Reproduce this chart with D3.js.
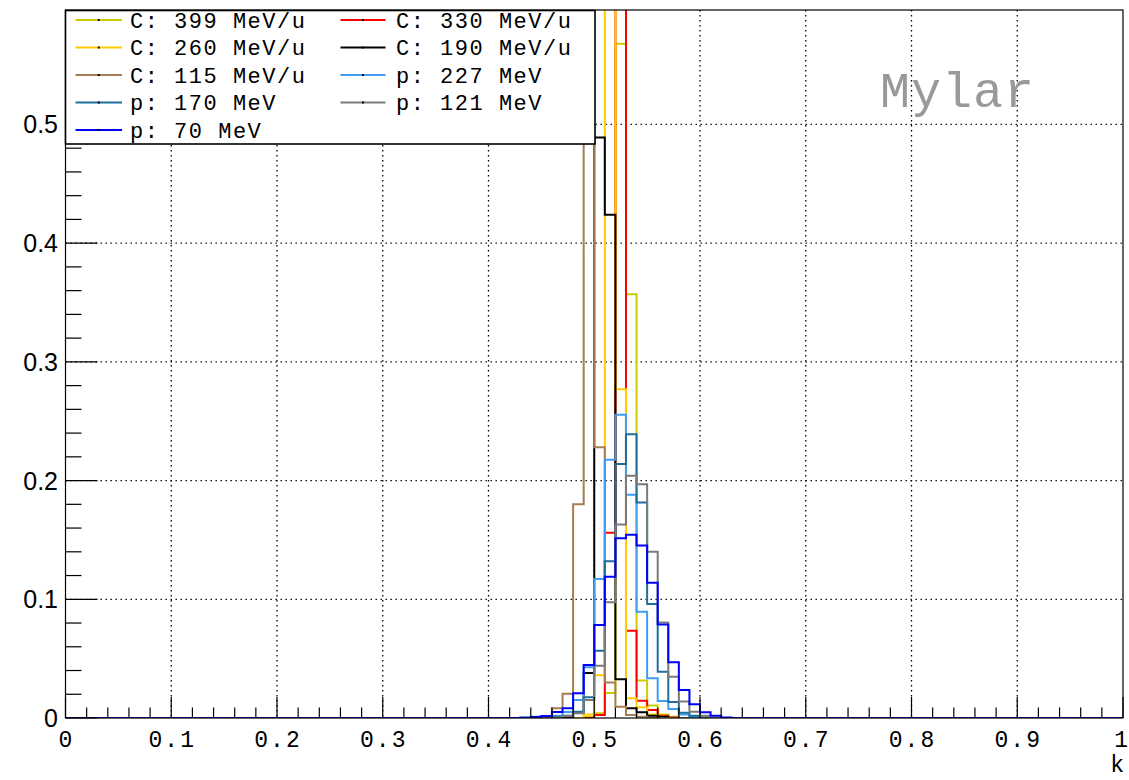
<!DOCTYPE html>
<html>
<head>
<meta charset="utf-8">
<script src="https://cdn.jsdelivr.net/npm/d3@7"></script>
<style>
  html, body { margin: 0; padding: 0; background: #fff; }
  svg { display: block; }
</style>
</head>
<body>
<svg id="chart" width="1129" height="780"></svg>
<script>
// Normalised k distributions in Mylar, 100 bins of width 0.01 on [0, 1].
// Only the populated bins are listed; every other bin is empty.
const binLeft = [0.43, 0.44, 0.45, 0.46, 0.47, 0.48, 0.49, 0.50, 0.51, 0.52,
                 0.53, 0.54, 0.55, 0.56, 0.57, 0.58, 0.59, 0.60, 0.61, 0.62];

const c399 = [0, 0, 0, 0, 0, 0, 0.001, 0.004, 0.021, 0.568,
              0.357, 0.0315, 0.0105, 0.003, 0.001, 0, 0, 0, 0, 0];
const c330 = [0, 0, 0, 0, 0, 0, 0, 0.0025, 0.156, 0.745,
              0.0735, 0.0146, 0.0067, 0.002, 0.0005, 0, 0, 0, 0, 0];
const c260 = [0, 0, 0, 0, 0, 0, 0.003, 0.036, 0.655, 0.277,
              0.0166, 0.009, 0.003, 0.001, 0, 0, 0, 0, 0, 0];
const c190 = [0, 0, 0, 0, 0, 0.005, 0.038, 0.489, 0.424, 0.0326,
              0.0082, 0.0048, 0.002, 0.001, 0, 0, 0, 0, 0, 0];
const c115 = [0, 0, 0.001, 0.0083, 0.0205, 0.18, 0.61, 0.228, 0.030, 0.0095,
              0.0025, 0.001, 0, 0, 0, 0, 0, 0, 0, 0];
const p227 = [0.0005, 0.001, 0.0014, 0.002, 0.005, 0.0152, 0.0427, 0.117, 0.2175, 0.2555,
              0.188, 0.0896, 0.0335, 0.0143, 0.0076, 0.003, 0.001, 0, 0, 0];
const p170 = [0, 0.0005, 0.001, 0.001, 0.002, 0.0053, 0.0174, 0.0567, 0.132, 0.214,
              0.239, 0.1815, 0.096, 0.039, 0.0134, 0.0045, 0.002, 0.0005, 0, 0];
const p121 = [0, 0.0003, 0.0005, 0.0005, 0.0015, 0.004, 0.0152, 0.044, 0.0975, 0.163,
              0.204, 0.197, 0.140, 0.0804, 0.0348, 0.0138, 0.0053, 0.002, 0.0005, 0];
const p70  = [0.0003, 0.0008, 0.0017, 0.005, 0.0082, 0.0208, 0.0447, 0.0784, 0.119, 0.1515,
              0.1543, 0.1453, 0.114, 0.0787, 0.047, 0.0236, 0.0115, 0.0048, 0.0018, 0.0005];

const seriesLabels = ["C: 399 MeV/u", "C: 330 MeV/u", "C: 260 MeV/u", "C: 190 MeV/u",
                      "C: 115 MeV/u", "p: 227 MeV", "p: 170 MeV", "p: 121 MeV", "p: 70 MeV"];
const seriesValues = [c399, c330, c260, c190, c115, p227, p170, p121, p70];
const seriesColors = ["#cccc00", "#ff0000", "#ffcc00", "#000000", "#a67c52",
                      "#3d9df5", "#1f6f9c", "#7a7a7a", "#0000ff"];

const nBins = 100;
const xMin = 0, xMax = 1;
const yMax = 0.5964;
const xTickLabels = ["0", "0.1", "0.2", "0.3", "0.4", "0.5", "0.6", "0.7", "0.8", "0.9", "1"];
const yTickLabels = ["0", "0.1", "0.2", "0.3", "0.4", "0.5"];
const materialLabel = "Mylar";
const xTitle = "k";

// ---------------------------------------------------------------------------
const svg = d3.select("#chart");
const frame = { left: 65.5, right: 1123, top: 10, bottom: 718 };
const x = d3.scaleLinear().domain([xMin, xMax]).range([frame.left, frame.right]);
const y = d3.scaleLinear().domain([0, yMax]).range([frame.bottom, frame.top]);
const monoFont = "Liberation Mono, Courier New, monospace";

svg.append("rect").attr("width", 1129).attr("height", 780).attr("fill", "#fff");

// dotted grid at the primary divisions
const grid = svg.append("g").attr("stroke", "#000").attr("stroke-width", 1.3)
  .attr("stroke-dasharray", "1.4,3.6").attr("fill", "none");
d3.range(1, 10).forEach(i => {
  const v = i / 10;
  grid.append("line").attr("x1", x(v)).attr("x2", x(v))
    .attr("y1", frame.top).attr("y2", frame.bottom);
});
d3.range(1, 6).forEach(i => {
  const v = i / 10;
  grid.append("line").attr("x1", frame.left).attr("x2", frame.right)
    .attr("y1", y(v)).attr("y2", y(v));
});

// histograms, clipped to the frame
svg.append("clipPath").attr("id", "frameClip")
  .append("rect").attr("x", frame.left).attr("y", frame.top)
  .attr("width", frame.right - frame.left).attr("height", frame.bottom - frame.top);

const step = d3.line().x(d => x(d[0])).y(d => y(d[1])).curve(d3.curveStepAfter);
const hists = svg.append("g").attr("clip-path", "url(#frameClip)");

seriesValues.forEach((vals, s) => {
  const pts = [];
  for (let i = 0; i < nBins; i++) {
    const lo = xMin + i * (xMax - xMin) / nBins;
    const j = binLeft.findIndex(b => Math.abs(b - lo) < 1e-9);
    pts.push([lo, j >= 0 ? vals[j] : 0]);
  }
  pts.push([xMax, pts[pts.length - 1][1]]);
  hists.append("path").attr("d", step(pts))
    .attr("fill", "none").attr("stroke", seriesColors[s])
    .attr("stroke-width", 2).attr("stroke-linejoin", "miter");
});

// frame
svg.append("rect").attr("x", frame.left).attr("y", frame.top)
  .attr("width", frame.right - frame.left).attr("height", frame.bottom - frame.top)
  .attr("fill", "none").attr("stroke", "#000").attr("stroke-width", 1.2);

// x axis ticks (inside, pointing up)
const axes = svg.append("g").attr("stroke", "#000").attr("stroke-width", 1.2);
x.ticks(50).forEach(v => {
  const major = Math.abs(v * 10 - Math.round(v * 10)) < 1e-6;
  axes.append("line").attr("x1", x(v)).attr("x2", x(v))
    .attr("y1", frame.bottom).attr("y2", frame.bottom - (major ? 21 : 10.5));
});
// y axis ticks (inside, pointing right)
y.ticks(30).forEach(v => {
  const major = Math.abs(v * 10 - Math.round(v * 10)) < 1e-6;
  axes.append("line").attr("x1", frame.left).attr("x2", frame.left + (major ? 32 : 16))
    .attr("y1", y(v)).attr("y2", y(v));
});

// tick labels; the last one is right-aligned so it stays inside the page
const lastX = xTickLabels.length - 1;
svg.append("g").selectAll("text").data(xTickLabels).join("text")
  .attr("x", (d, i) => i === lastX ? 1128 : x(i / 10) + 1)
  .attr("y", 747)
  .attr("text-anchor", (d, i) => i === lastX ? "end" : "middle")
  .attr("font-family", monoFont)
  .attr("font-size", 23).attr("letter-spacing", (d, i) => i === lastX ? 0 : 2)
  .text(d => d);

svg.append("g").selectAll("text").data(yTickLabels).join("text")
  .attr("x", 58)
  .attr("y", (d, i) => y(i / 10) + 9)
  .attr("text-anchor", "end")
  .attr("font-family", "Liberation Sans, Arial, Helvetica, sans-serif")
  .attr("font-size", 25)
  .text(d => d);

svg.append("text").attr("x", 1124).attr("y", 772).attr("text-anchor", "end")
  .attr("font-family", monoFont).attr("font-size", 23)
  .text(xTitle);

// material label
svg.append("text").attr("x", 880).attr("y", 107)
  .attr("font-family", monoFont)
  .attr("font-size", 50).attr("letter-spacing", 1).attr("fill", "#999")
  .text(materialLabel);

// legend
const legend = svg.append("g");
legend.append("rect").attr("x", 65.5).attr("y", 10.5).attr("width", 529.5).attr("height", 133.5)
  .attr("fill", "#fff").attr("stroke", "#000").attr("stroke-width", 1.6);
const rowY = [20, 47.5, 75, 102.5, 130];
const colX = [{ l0: 75.5, l1: 122, t: 130 }, { l0: 340.5, l1: 385.5, t: 396 }];
seriesLabels.forEach((label, i) => {
  const c = colX[i % 2], ry = rowY[Math.floor(i / 2)];
  legend.append("line").attr("x1", c.l0).attr("x2", c.l1).attr("y1", ry).attr("y2", ry)
    .attr("stroke", seriesColors[i]).attr("stroke-width", 1.8);
  legend.append("rect").attr("x", (c.l0 + c.l1) / 2 - 1).attr("y", ry - 1)
    .attr("width", 2).attr("height", 2).attr("fill", "#000");
  legend.append("text").attr("x", c.t).attr("y", ry + 7.5)
    .attr("font-family", monoFont)
    .attr("font-size", 22).attr("letter-spacing", 1.5)
    .text(label);
});
</script>
</body>
</html>
